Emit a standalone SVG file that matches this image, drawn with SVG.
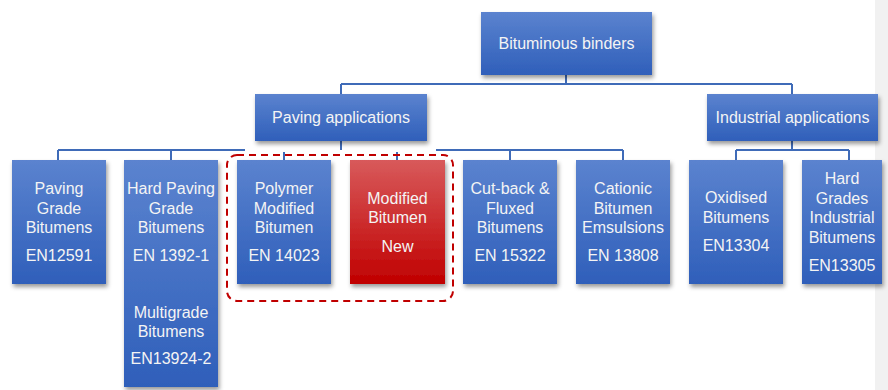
<svg xmlns="http://www.w3.org/2000/svg" width="888" height="390" viewBox="0 0 888 390">
<defs>
<linearGradient id="gb" x1="0" y1="0" x2="0" y2="1"><stop offset="0" stop-color="#5b83cf"/><stop offset="1" stop-color="#2f5fba"/></linearGradient>
<linearGradient id="gr" x1="0" y1="0" x2="0" y2="1"><stop offset="0" stop-color="#d85a5b"/><stop offset="1" stop-color="#c00000"/></linearGradient>
<filter id="sh" x="-20%" y="-20%" width="140%" height="140%"><feDropShadow dx="1.5" dy="3" stdDeviation="2" flood-color="#000" flood-opacity="0.4"/></filter>
</defs>
<style>
.b{fill:url(#gb);filter:url(#sh)}
.r{fill:url(#gr);filter:url(#sh)}
text{font-family:"Liberation Sans",Arial,sans-serif;font-size:16px;fill:#f4f4f4;text-anchor:middle}
.c{fill:none;stroke:#3f6bb8;stroke-width:2}
.d{fill:none;stroke:#c00000;stroke-width:2;stroke-dasharray:7 5}
</style>
<rect x="0" y="0" width="888" height="390" fill="#fff"/>
<rect x="875" y="0" width="13" height="390" fill="#f1f1f1"/>
<g id="connectors">
<path class="c" d="M566 75V84M341 84H792M341 84V94M792 84V94"/>
<path class="c" d="M341 141V150M58 150H245M436 150H623M58 150V160M171 150V160M284 152V160M397 152V160M510 150V160M623 150V160"/>
<path class="c" d="M792 141V150M736 150H849M736 150V160M849 150V160"/>
</g>
<g id="n-root"><rect class="b" x="481" y="12" width="171" height="63"/><text x="566.5" y="49">Bituminous binders</text></g>
<g id="n-paving"><rect class="b" x="255" y="94" width="172" height="47"/><text x="341" y="123">Paving applications</text></g>
<g id="n-industrial"><rect class="b" x="707" y="94" width="171" height="47"/><text x="792.5" y="123">Industrial applications</text></g>
<g id="n-pgb"><rect class="b" x="12" y="160" width="94" height="124"/><text x="59" y="194">Paving</text><text x="59" y="213.5">Grade</text><text x="59" y="233">Bitumens</text><text x="59" y="261">EN12591</text></g>
<g id="n-hpgb"><rect class="b" x="124" y="160" width="94" height="227"/><text x="171" y="194">Hard Paving</text><text x="171" y="213.5">Grade</text><text x="171" y="233">Bitumens</text><text x="171" y="261">EN 1392-1</text><text x="171" y="318">Multigrade</text><text x="171" y="337">Bitumens</text><text x="171" y="364">EN13924-2</text></g>
<g id="n-pmb"><rect class="b" x="237" y="160" width="94" height="124"/><text x="284" y="194">Polymer</text><text x="284" y="213.5">Modified</text><text x="284" y="233">Bitumen</text><text x="284" y="261">EN 14023</text></g>
<g id="n-mb"><rect class="r" x="350" y="160" width="95" height="124"/><text x="397.5" y="204">Modified</text><text x="397.5" y="223">Bitumen</text><text x="397.5" y="252">New</text></g>
<g id="n-cfb"><rect class="b" x="463" y="160" width="94" height="124"/><text x="510" y="194">Cut-back &amp;</text><text x="510" y="213.5">Fluxed</text><text x="510" y="233">Bitumens</text><text x="510" y="261">EN 15322</text></g>
<g id="n-cbe"><rect class="b" x="576" y="160" width="94" height="124"/><text x="623" y="194">Cationic</text><text x="623" y="213.5">Bitumen</text><text x="623" y="233">Emsulsions</text><text x="623" y="261">EN 13808</text></g>
<g id="n-ob"><rect class="b" x="689" y="160" width="94" height="124"/><text x="736" y="203">Oxidised</text><text x="736" y="223">Bitumens</text><text x="736" y="251">EN13304</text></g>
<g id="n-hgib"><rect class="b" x="802" y="160" width="80" height="124"/><text x="842" y="184">Hard</text><text x="842" y="204">Grades</text><text x="842" y="223">Industrial</text><text x="842" y="243">Bitumens</text><text x="842" y="271">EN13305</text></g>
<g id="group-highlight"><rect class="d" x="227" y="155" width="226" height="146" rx="10"/></g>
</svg>
